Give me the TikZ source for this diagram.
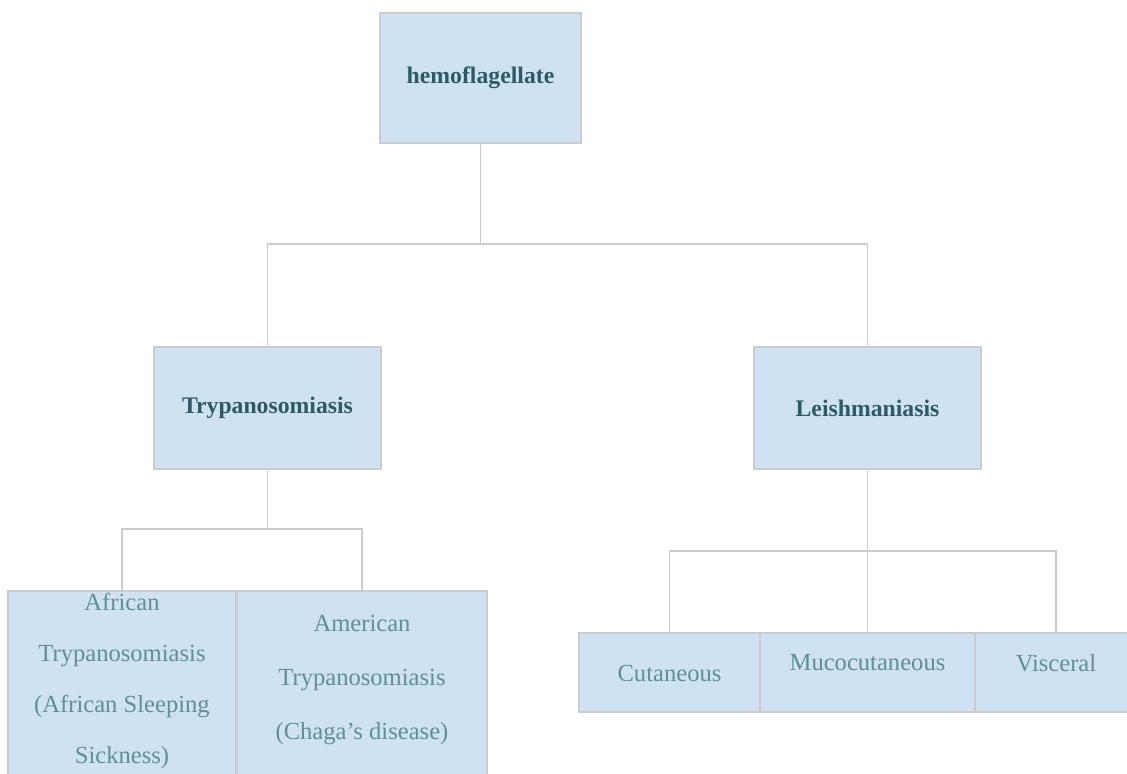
\documentclass[tikz,border=0pt]{standalone}
\usepackage{fontspec}
\setmainfont{Liberation Serif}
\definecolor{boxfill}{HTML}{CFE2F3}
\definecolor{boxline}{HTML}{CCCCCC}
\definecolor{headtext}{HTML}{2B5B67}
\definecolor{leaftext}{HTML}{5E8F9A}

\begin{document}
\begin{tikzpicture}[x=0.02cm,y=-0.02cm]
\useasboundingbox (0,0) rectangle (1127,774);
\clip (0,0) rectangle (1127,774);

% boxes
\begin{scope}[every node/.style={draw=boxline,fill=boxfill,line width=0.9pt,inner sep=0pt,
              align=center}]
    \node[minimum width=4.02cm,minimum height=2.6cm,text=headtext,
          font=\bfseries\fontsize{13.5}{15}\selectfont] (Hemo) at (480.5,78) {hemoflagellate};
    \node[minimum width=4.54cm,minimum height=2.44cm,text=headtext,
          font=\bfseries\fontsize{13.5}{15}\selectfont] (Trypano) at (267.5,408) {Trypanosomiasis};
    \node[minimum width=4.54cm,minimum height=2.44cm,text=headtext,
          font=\bfseries\fontsize{13.5}{15}\selectfont] (Leish) at (867.5,408) {Leishmaniasis};
    \node[minimum width=4.56cm,minimum height=4.36cm] (African) at (122,700) {};
    \node[minimum width=5cm,minimum height=4.36cm] (American) at (362,700) {};
    \node[minimum width=3.62cm,minimum height=1.58cm] (Cutan) at (669.5,672.5) {};
    \node[minimum width=4.3cm,minimum height=1.58cm] (Mucocutan) at (867.5,672.5) {};
    \node[minimum width=3.24cm,minimum height=1.58cm] (Visceral) at (1056,672.5) {};
\end{scope}

% texts of the lower boxes
\begin{scope}[every node/.style={text=leaftext,align=center,
              font=\fontsize{14}{31}\selectfont}]
    \node[font=\fontsize{14}{29}\selectfont] (AfricanText) at (122,681)
        {African\\Trypanosomiasis\\(African Sleeping\\Sickness)};
    \node (AmericanText) at (362,680) {American\\Trypanosomiasis\\(Chaga’s disease)};
    \node (CutanText) at (669.5,673) {Cutaneous};
    \node (MucocutanText) at (867.5,663) {Mucocutaneous};
    \node (VisceralText) at (1056,663) {Visceral};
\end{scope}

% connectors
\begin{scope}[every path/.style={draw=boxline,line width=1.1pt}]
    \coordinate (HemoBar) at (480.5,244);
    \coordinate (TrypanoBar) at (267.5,529);
    \coordinate (LeishBar) at (867.5,551);
    \path (Hemo) -- (HemoBar) -| (Trypano);
    \path (HemoBar) -| (Leish);
    \path (Trypano) -- (TrypanoBar) -| (African);
    \path (TrypanoBar) -| (American);
    \path (Leish) -- (LeishBar) -| (Cutan);
    \path (LeishBar) -- (Mucocutan);
    \path (LeishBar) -| (Visceral);
\end{scope}
\end{tikzpicture}
\end{document}
